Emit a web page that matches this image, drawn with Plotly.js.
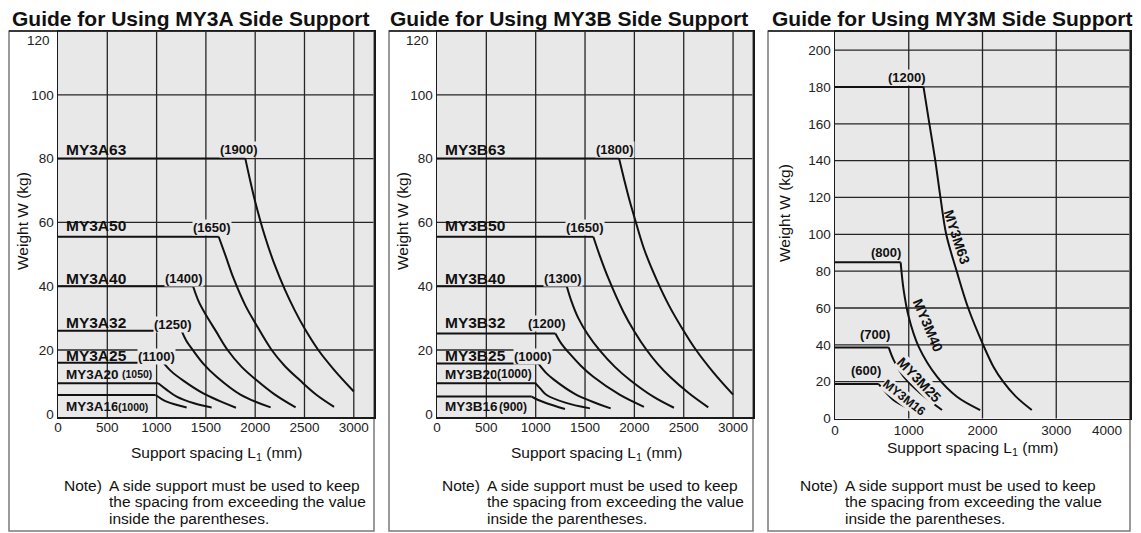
<!DOCTYPE html>
<html>
<head>
<meta charset="utf-8">
<script src="https://cdn.plot.ly/plotly-3.0.1.min.js"></script>
<style>html,body{margin:0;padding:0;background:#fff;}#chart{width:1141px;height:533px;}</style>
</head>
<body>
<div id="chart"></div>
<script>
// ---------- tick values ----------
const xTicksAB = [0, 500, 1000, 1500, 2000, 2500, 3000];
const yTicksAB = [0, 20, 40, 60, 80, 100, 120];
const yTopLabelAB = 120;
const xTicksM = [0, 1000, 2000, 3000];
const xLastLabelM = 4000;
const yTicksM = [0, 20, 40, 60, 80, 100, 120, 140, 160, 180, 200];

// ---------- titles / text ----------
const panelTitles = ['Guide for Using MY3A Side Support', 'Guide for Using MY3B Side Support', 'Guide for Using MY3M Side Support'];
const xTitle = 'Support spacing L<sub>1</sub> (mm)';
const yTitle = 'Weight W (kg)';
const noteLines = ['A side support must be used to keep', 'the spacing from exceeding the value', 'inside the parentheses.'];

// ---------- MY3A series (support spacing L1 mm, weight kg) ----------
const A63_L = [0, 1900, 1950, 2000, 2100, 2200, 2300, 2400, 2500, 2640, 2800, 3000];
const A63_W = [80, 80, 73, 66.5, 55.5, 46.5, 39, 32.5, 26.8, 20, 13.8, 7];
const A50_L = [0, 1630, 1700, 1780, 1900, 2000, 2167, 2300, 2454, 2620, 2800];
const A50_W = [55.5, 55.5, 49.5, 42.5, 34, 28.5, 20, 15, 10.5, 6, 2.2];
const A40_L = [0, 1370, 1430, 1510, 1600, 1720, 1860, 2015, 2200, 2410];
const A40_W = [40, 40, 35, 30.5, 26, 20, 14.8, 10.5, 6, 2];
const A32_L = [0, 1254, 1300, 1372, 1480, 1609, 1850, 2157];
const A32_W = [26, 26, 23, 19.8, 15.5, 11.6, 6, 2];
const A25_L = [0, 1070, 1150, 1271, 1474, 1805];
const A25_W = [16, 16, 13.3, 10.4, 6.4, 1.9];
const A20_L = [0, 1017, 1100, 1204, 1380, 1558];
const A20_W = [9.6, 9.6, 7.6, 5.4, 3.3, 2];
const A16_L = [0, 990, 1102, 1305];
const A16_W = [5.9, 5.9, 3.8, 2];
const namesA = ['MY3A63', 'MY3A50', 'MY3A40', 'MY3A32', 'MY3A25', 'MY3A20', 'MY3A16'];
const limitsA = ['(1900)', '(1650)', '(1400)', '(1250)', '(1100)', '(1050)', '(1000)'];

// ---------- MY3B series ----------
const B63_L = [0, 1845, 1900, 1950, 2006, 2100, 2226, 2350, 2480, 2625, 2800, 3000];
const B63_W = [80, 80, 73, 67, 61, 51.5, 42, 34, 27, 20, 13, 6];
const B50_L = [0, 1584, 1650, 1736, 1888, 2000, 2124, 2240, 2361, 2550, 2749];
const B50_W = [55.5, 55.5, 49.5, 42.5, 32, 25.8, 20, 15.5, 11.6, 6.5, 2];
const B40_L = [0, 1315, 1360, 1432, 1530, 1651, 1800, 1955, 2200, 2401];
const B40_W = [40, 40, 35.5, 30, 24.8, 19.8, 14.8, 10.6, 5.2, 1.9];
const B32_L = [0, 1200, 1260, 1340, 1460, 1584, 1850, 2097];
const B32_W = [25.2, 25.2, 22, 19, 15, 11.6, 6, 2.2];
const B25_L = [0, 1026, 1100, 1181, 1400, 1760];
const B25_W = [15.8, 15.8, 13, 10.8, 6.2, 1.7];
const B20_L = [0, 996, 1050, 1111, 1300, 1550];
const B20_W = [9.6, 9.6, 7.8, 5.9, 3.5, 1.7];
const B16_L = [0, 960, 1020, 1111, 1297];
const B16_W = [5.4, 5.4, 4.4, 3.3, 1.5];
const namesB = ['MY3B63', 'MY3B50', 'MY3B40', 'MY3B32', 'MY3B25', 'MY3B20', 'MY3B16'];
const limitsB = ['(1800)', '(1650)', '(1300)', '(1200)', '(1000)', '(1000)', '(900)'];

// ---------- MY3M series ----------
const M63_L = [0, 1200, 1280, 1360, 1430, 1508, 1650, 1806, 2009, 2150, 2280, 2450, 2668];
const M63_W = [180, 180, 160, 140, 120, 100, 80, 60, 40, 28, 20, 12, 4.6];
const M40_L = [0, 890, 931, 999, 1134, 1383, 1654, 1969];
const M40_W = [84.8, 84.8, 69.7, 55.2, 39, 22.7, 11.8, 4.6];
const M25_L = [0, 728, 796, 931, 1157, 1451];
const M25_W = [38.6, 38.6, 31.7, 22.7, 13.7, 4.6];
const M16_L = [0, 593, 660, 796, 999];
const M16_W = [18.7, 18.7, 15.5, 10, 5.5];
const namesM = ['MY3M63', 'MY3M40', 'MY3M25', 'MY3M16'];
const limitsM = ['(1200)', '(800)', '(700)', '(600)'];

// ---------- helpers ----------
const W = 1141, H = 533;
const FONT = 'Liberation Sans, Arial, Helvetica, sans-serif';
const PLOTBG = '#e8e8e8';
const INK = '#111';
const TICKC = '#222';
const px = v => v / W;
const py = v => 1 - v / H;

const traces = [];
function addCurve(L, Wt, xa, ya) {
  traces.push({x: L.slice(0, 2), y: Wt.slice(0, 2), xaxis: xa, yaxis: ya, mode: 'lines',
    line: {color: INK, width: 2}, hoverinfo: 'skip', showlegend: false});
  traces.push({x: L.slice(1), y: Wt.slice(1), xaxis: xa, yaxis: ya, mode: 'lines',
    line: {color: INK, width: 2, shape: 'spline', smoothing: 1}, hoverinfo: 'skip', showlegend: false});
}
[[A63_L, A63_W], [A50_L, A50_W], [A40_L, A40_W], [A32_L, A32_W], [A25_L, A25_W], [A20_L, A20_W], [A16_L, A16_W]]
  .forEach(s => addCurve(s[0], s[1], 'x', 'y'));
[[B63_L, B63_W], [B50_L, B50_W], [B40_L, B40_W], [B32_L, B32_W], [B25_L, B25_W], [B20_L, B20_W], [B16_L, B16_W]]
  .forEach(s => addCurve(s[0], s[1], 'x2', 'y2'));
[[M63_L, M63_W], [M40_L, M40_W], [M25_L, M25_W], [M16_L, M16_W]]
  .forEach(s => addCurve(s[0], s[1], 'x3', 'y3'));

const axisCommon = {
  showgrid: false, zeroline: false, showline: true, mirror: true,
  linecolor: '#1a1a1a', linewidth: 1.5, ticks: '', fixedrange: true,
  tickfont: {family: FONT, size: 13.5, color: TICKC}
};

// ---------- gridlines & frames ----------
const shapes = [];
const GRID = {color: '#262626', width: 1.3};
function grid(xTicks, yTicks, xa, ya) {
  xTicks.filter(t => t !== 0).forEach(t => shapes.push({type: 'line', layer: 'below', xref: xa, yref: ya + ' domain',
    x0: t, x1: t, y0: 0, y1: 1, line: GRID}));
  yTicks.filter(t => t !== 0).forEach(t => shapes.push({type: 'line', layer: 'below', xref: xa + ' domain', yref: ya,
    x0: 0, x1: 1, y0: t, y1: t, line: GRID}));
}
grid(xTicksAB, yTicksAB, 'x', 'y');
grid(xTicksAB, yTicksAB, 'x2', 'y2');
grid(xTicksM.concat([xLastLabelM]), yTicksM, 'x3', 'y3');

[[9, 374], [389, 753], [768, 1130]].forEach(f => {
  shapes.push({type: 'rect', layer: 'below', xref: 'paper', yref: 'paper', x0: px(f[0]), x1: px(f[1]), y0: py(531), y1: py(31),
    line: {color: '#7a7a7a', width: 1.5}, fillcolor: 'rgba(0,0,0,0)'});
  shapes.push({type: 'line', layer: 'below', xref: 'paper', yref: 'paper', x0: px(f[0]), x1: px(f[1]), y0: py(31), y1: py(31),
    line: {color: '#1a1a1a', width: 1.5}});
});

// ---------- annotations ----------
const ann = [];
function txt(text, x, y, xref, yref, o) {
  o = o || {};
  ann.push(Object.assign({text: text, x: x, y: y, xref: xref, yref: yref, showarrow: false,
    xanchor: o.xanchor || 'center', yanchor: 'middle',
    font: {family: FONT, size: o.size || 13, color: o.color || INK}}, o.extra || {}));
}
// panel titles
[10, 388, 770].forEach((x0, i) => txt('<b>' + panelTitles[i] + '</b>', px(x0), py(18.5), 'paper', 'paper', {xanchor: 'left', size: 21}));
// axis titles
[216, 596, 972].forEach((xc, i) => txt(xTitle, px(xc), py(i === 2 ? 448 : 453), 'paper', 'paper', {size: 15.5}));
[[23, 221], [403, 221], [785, 213]].forEach(p => txt(yTitle, px(p[0]), py(p[1]), 'paper', 'paper', {size: 15.5, extra: {textangle: -90}}));
// notes
[[62, 107], [440, 485], [798, 843]].forEach(p => {
  txt('Note)', px(p[0]), py(485.7), 'paper', 'paper', {xanchor: 'left', size: 15.5});
  [485.7, 501.9, 518.2].forEach((yy, k) => txt(noteLines[k], px(p[1]), py(yy), 'paper', 'paper', {xanchor: 'left', size: 15.5}));
});
// edge tick labels pulled inside the frames
txt(String(xLastLabelM), xLastLabelM, py(430), 'x3', 'paper', {xanchor: 'right', size: 13.5, color: TICKC, extra: {xshift: -6}});
[52, 431].forEach(xr => txt(String(yTopLabelAB), px(xr), py(41), 'paper', 'paper', {xanchor: 'right', size: 13.5, color: TICKC}));

// series labels
const mask = {bgcolor: PLOTBG, borderpad: 0};
const labYAB = [83, 58.9, 42.5, 28.6, 18.4, 12.4, 2.2];
const limXA = [1839, 1559, 1281, 1163, 1001, 798, 764];
const limYA = [83, 58.5, 42.3, 28, 17.9, 12.4, 2.2];
namesA.forEach((n, i) => {
  txt('<b>' + n + '</b>', 61, labYAB[i], 'x', 'y', {xanchor: 'left', size: i < 5 ? 15.5 : 13.5});
  txt('<b>' + limitsA[i] + '</b>', limXA[i], limYA[i], 'x', 'y', {size: i < 5 ? 13 : 10.5, extra: mask});
});
const limXB = [1803, 1500, 1273, 1111, 976, 790, 767];
const limYB = [82.7, 58.5, 42.3, 28.4, 17.9, 12.4, 2.2];
namesB.forEach((n, i) => {
  txt('<b>' + n + '</b>', 61, labYAB[i], 'x2', 'y2', {xanchor: 'left', size: i < 5 ? 15.5 : 13.5});
  txt('<b>' + limitsB[i] + '</b>', limXB[i], limYB[i], 'x2', 'y2', {size: i < 5 ? 13 : 12, extra: mask});
});
const limXM = [977, 697, 548, 420];
const limYM = [185.1, 90, 45.8, 25.8];
const nameXM = [1654, 1258, 1143, 940];
const nameYM = [98.6, 50.7, 20.9, 11.1];
const nameAngM = [72, 67, 46, 38];
namesM.forEach((n, i) => {
  txt('<b>' + limitsM[i] + '</b>', limXM[i], limYM[i], 'x3', 'y3', {size: 13, extra: mask});
  txt('<b>' + n + '</b>', nameXM[i], nameYM[i], 'x3', 'y3', {size: i < 3 ? 14 : 12.5,
    extra: Object.assign({textangle: nameAngM[i]}, i >= 2 ? mask : {})});
});

const yValsAB = yTicksAB.filter(t => t !== yTopLabelAB);
const layout = {
  width: W, height: H, margin: {l: 0, r: 0, t: 0, b: 0},
  paper_bgcolor: '#ffffff', plot_bgcolor: PLOTBG, showlegend: false,
  font: {family: FONT, color: INK},
  xaxis: Object.assign({}, axisCommon, {domain: [px(58), px(374)], range: [0, 3205], anchor: 'y', tickvals: xTicksAB, ticktext: xTicksAB.map(String), ticklabelstandoff: -3}),
  yaxis: Object.assign({}, axisCommon, {domain: [py(417), py(31)], range: [-1, 120], anchor: 'x', tickvals: yValsAB, ticktext: yValsAB.map(String)}),
  xaxis2: Object.assign({}, axisCommon, {domain: [px(437), px(753)], range: [0, 3202], anchor: 'y2', tickvals: xTicksAB, ticktext: xTicksAB.map(String), ticklabelstandoff: -3}),
  yaxis2: Object.assign({}, axisCommon, {domain: [py(417), py(31)], range: [-1, 120], anchor: 'x2', tickvals: yValsAB, ticktext: yValsAB.map(String)}),
  xaxis3: Object.assign({}, axisCommon, {domain: [px(835), px(1130)], range: [0, 4000], anchor: 'y3', tickvals: xTicksM, ticktext: xTicksM.map(String), ticklabelstandoff: -1}),
  yaxis3: Object.assign({}, axisCommon, {domain: [py(418.5), py(31.7)], range: [0, 210], anchor: 'x3', tickvals: yTicksM, ticktext: yTicksM.map(String)}),
  shapes: shapes, annotations: ann
};
Plotly.newPlot('chart', traces, layout, {staticPlot: true, displayModeBar: false});
</script>
</body>
</html>
